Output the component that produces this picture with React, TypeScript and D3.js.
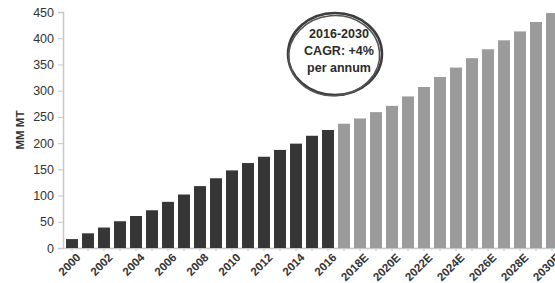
import React, { useEffect, useRef } from "react";
import * as d3 from "d3";

const years: string[] = [
  "2000", "2001", "2002", "2003", "2004", "2005", "2006", "2007", "2008", "2009",
  "2010", "2011", "2012", "2013", "2014", "2015", "2016", "2017E", "2018E", "2019E",
  "2020E", "2021E", "2022E", "2023E", "2024E", "2025E", "2026E", "2027E", "2028E", "2029E",
  "2030E",
];
const actual: number[] = [17, 28, 39, 51, 61, 72, 88, 102, 118, 133, 148, 162, 174, 187, 199, 214, 225];
const forecast: number[] = [237, 247, 259, 271, 289, 307, 326, 344, 362, 379, 396, 413, 431, 448];
const yTicks: number[] = [0, 50, 100, 150, 200, 250, 300, 350, 400, 450];
const shownLabels: string[] = [
  "2000", "2002", "2004", "2006", "2008", "2010", "2012", "2014", "2016",
  "2018E", "2020E", "2022E", "2024E", "2026E", "2028E", "2030E",
];
const noteLines: string[] = ["2016-2030", "CAGR: +4%", "per annum"];

function App() {
  const ref = useRef<SVGSVGElement>(null);

  useEffect(() => {
    const svg = d3.select(ref.current);
    svg.selectAll("*").remove();

    const data = years.map((y, i) => ({
      year: y,
      value: i < actual.length ? actual[i] : forecast[i - actual.length],
      est: i >= actual.length,
    }));

    const x = d3.scaleBand().domain(years).range([64, 560]).paddingInner(0.25).paddingOuter(0.125);
    const y = d3.scaleLinear().domain([0, 450]).range([248, 12]);
    const font = "'Liberation Sans', Arial, sans-serif";

    // y axis
    const ya = svg
      .append("g")
      .attr("transform", "translate(63,0)")
      .call(d3.axisLeft(y).tickValues(yTicks).tickSize(5).tickPadding(4));
    ya.select(".domain").attr("stroke", "#c8c8c8").attr("stroke-width", 1.5);
    ya.selectAll(".tick line").attr("stroke", "#c8c8c8");
    ya.selectAll(".tick text")
      .attr("fill", "#333")
      .style("font-family", font)
      .style("font-size", "12.5px");

    // x axis (ticks only, labels drawn below)
    const xa = svg
      .append("g")
      .attr("transform", "translate(0,248)")
      .call(d3.axisBottom(x).tickSize(3).tickSizeOuter(0).tickFormat(() => ""));
    xa.select(".domain").attr("stroke", "#c8c8c8").attr("stroke-width", 1.5);
    xa.selectAll(".tick line").attr("stroke", "#c8c8c8");

    // rotated year labels
    svg
      .append("g")
      .selectAll("text")
      .data(shownLabels)
      .enter()
      .append("text")
      .attr(
        "transform",
        (d) => `translate(${(x(d) as number) + x.bandwidth() / 2 + 4},253) rotate(-45)`
      )
      .attr("dy", "0.65em")
      .attr("text-anchor", "end")
      .attr("fill", "#333")
      .style("font-family", font)
      .style("font-size", "11.5px")
      .style("font-weight", "bold")
      .text((d) => d);

    // bars
    svg
      .append("g")
      .selectAll("rect")
      .data(data)
      .enter()
      .append("rect")
      .attr("x", (d) => x(d.year) as number)
      .attr("width", x.bandwidth())
      .attr("y", (d) => y(d.value))
      .attr("height", (d) => y(0) - y(d.value))
      .attr("fill", (d) => (d.est ? "#9b9b9b" : "#363636"));

    // y title
    svg
      .append("text")
      .attr("transform", "translate(24,130) rotate(-90)")
      .attr("text-anchor", "middle")
      .attr("fill", "#333")
      .style("font-family", font)
      .style("font-size", "11.5px")
      .style("font-weight", "bold")
      .text("MM MT");

    // CAGR annotation
    const note = svg.append("g").attr("transform", "translate(335,54)");
    note
      .append("ellipse")
      .attr("rx", 47)
      .attr("ry", 41)
      .attr("fill", "none")
      .attr("stroke", "#3c3c3c")
      .attr("stroke-width", 2.5);
    note
      .append("ellipse")
      .attr("cx", -1)
      .attr("cy", 1.5)
      .attr("rx", 45.5)
      .attr("ry", 40)
      .attr("transform", "rotate(-5)")
      .attr("fill", "none")
      .attr("stroke", "#555")
      .attr("stroke-width", 1.5);
    note
      .selectAll("text.note")
      .data(noteLines)
      .enter()
      .append("text")
      .attr("class", "note")
      .attr("x", 4)
      .attr("y", (d, i) => -16 + i * 17)
      .attr("text-anchor", "middle")
      .attr("fill", "#2a2a2a")
      .style("font-family", font)
      .style("font-size", "12.5px")
      .style("font-weight", "bold")
      .text((d) => d);
  }, []);

  return (
    <svg
      ref={ref}
      width={555}
      height={283}
      style={{ position: "absolute", left: 0, top: 0, background: "#fff" }}
    />
  );
}

export default App;
